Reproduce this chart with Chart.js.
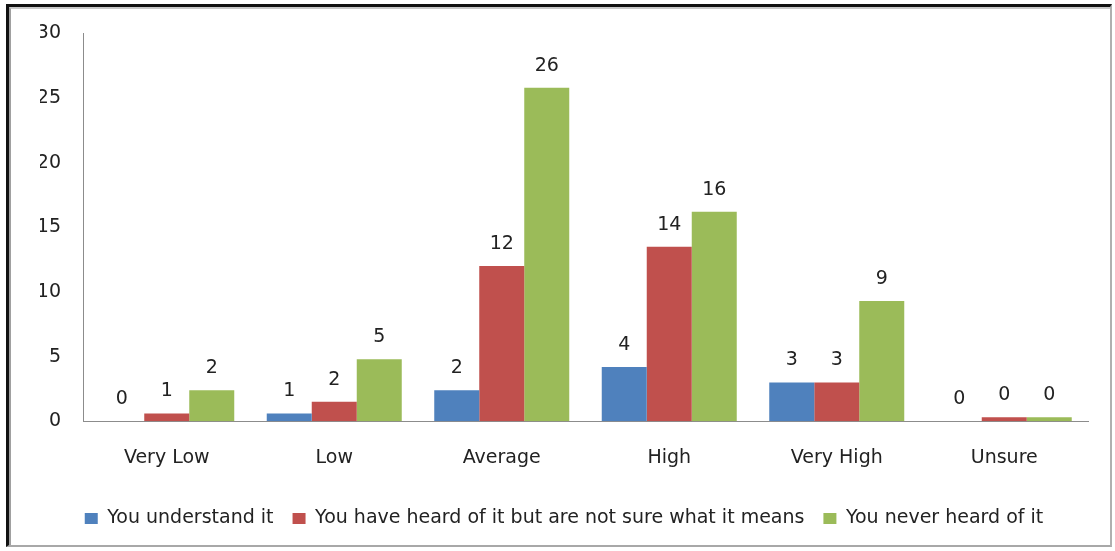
<!DOCTYPE html>
<html>
<head>
<meta charset="utf-8">
<script src="https://cdn.jsdelivr.net/npm/chart.js@4"></script>
<style>
  html, body { margin: 0; padding: 0; background: #fff; }
  #wrap { position: relative; width: 1115px; height: 551px; }
  #frame {
    position: absolute; left: 6px; top: 4px; width: 1106px; height: 543px;
    border-left: 3px solid #111; border-top: 3px solid #111;
    border-right: 2px solid #b0b0b0; border-bottom: 2px solid #a8a8a8;
    box-sizing: border-box; pointer-events: none;
  }
  #frame:after {
    content: ''; position: absolute; left: 0; top: 0; right: 0; bottom: 0;
    border-left: 2px solid #a0a0a0; border-top: 2px solid #c8c8c8;
  }
  canvas { position: absolute; left: 0; top: 0; }
</style>
</head>
<body>
<div id="wrap">
  <canvas id="chart" width="1115" height="551"></canvas>
  <div id="frame"></div>
</div>
<script>
const categories = ['Very Low', 'Low', 'Average', 'High', 'Very High', 'Unsure']
const seriesNames = [
    'You understand it',
    'You have heard of it but are not sure what it means',
    'You never heard of it'
]
const understand = [0, 0.6, 2.4, 4.2, 3.0, 0]
const heardNotSure = [0.6, 1.5, 12.0, 13.5, 3.0, 0.3]
const neverHeard = [2.4, 4.8, 25.8, 16.2, 9.3, 0.3]
const yTicks = [0, 5, 10, 15, 20, 25, 30]

const colors = ['#4F81BD', '#C0504D', '#9BBB59']
const textColor = '#222'
const fontFamily = '"DejaVu Sans", sans-serif'

// value labels above every bar (rounded, like the original)
const barLabels = {
    id: 'barLabels',
    afterDatasetsDraw(chart) {
        const c = chart.ctx
        c.save()
        c.font = '19px ' + fontFamily
        c.fillStyle = textColor
        c.textAlign = 'center'
        c.textBaseline = 'middle'
        chart.data.datasets.forEach(function (ds, i) {
            const meta = chart.getDatasetMeta(i)
            meta.data.forEach(function (bar, j) {
                c.fillText(String(Math.round(ds.data[j])), bar.x, bar.y - 22)
            })
        })
        c.restore()
    }
}

const ctx = document.getElementById('chart').getContext('2d')
new Chart(ctx, {
    type: 'bar',
    data: {
        labels: categories,
        datasets: [
            { label: seriesNames[0], data: understand, backgroundColor: colors[0] },
            { label: seriesNames[1], data: heardNotSure, backgroundColor: colors[1] },
            { label: seriesNames[2], data: neverHeard, backgroundColor: colors[2] }
        ]
    },
    options: {
        responsive: false,
        animation: false,
        devicePixelRatio: 1,
        categoryPercentage: 0.806,
        barPercentage: 1,
        layout: { padding: { left: 40, top: 33, right: 27, bottom: 13 } },
        scales: {
            x: {
                afterFit(scale) { scale.height -= 4 },
                grid: { display: false, drawTicks: false },
                border: { display: true, color: '#8c8c8c', width: 1 },
                ticks: { color: textColor, font: { family: fontFamily, size: 19 }, padding: 25 }
            },
            y: {
                min: 0,
                max: 30,
                afterFit(scale) { scale.width = 43 },
                afterBuildTicks(scale) { scale.ticks = yTicks.map(v => ({ value: v })) },
                grid: { display: false, drawTicks: false },
                border: { display: true, color: '#8c8c8c', width: 1 },
                ticks: { color: textColor, font: { family: fontFamily, size: 19 }, padding: 22 }
            }
        },
        plugins: {
            legend: {
                position: 'bottom',
                labels: {
                    color: textColor,
                    font: { family: fontFamily, size: 19 },
                    boxWidth: 13,
                    boxHeight: 11,
                    padding: 19
                }
            },
            tooltip: { enabled: false }
        }
    },
    plugins: [barLabels]
})
</script>
</body>
</html>
